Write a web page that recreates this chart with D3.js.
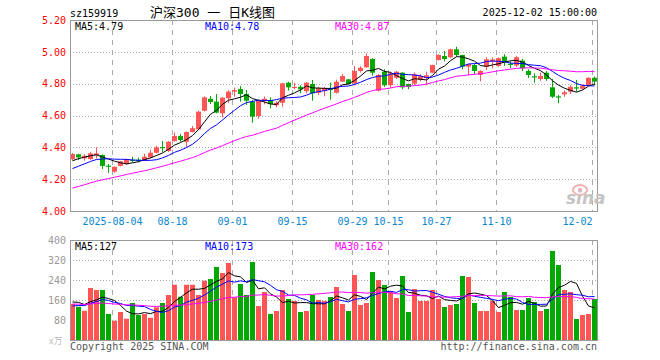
<!DOCTYPE html>
<html><head><meta charset="utf-8">
<script src="https://cdn.jsdelivr.net/npm/d3@7"></script>
<style>
html,body{margin:0;padding:0;background:#fff;}
svg{display:block;}
text{font-family:"DejaVu Sans Mono","Liberation Mono",monospace;font-size:10px;}
</style></head><body><svg id="c" width="660" height="360"></svg>
<script>
// ---------- DATA ----------
const dates = [
 "2025-07-24","2025-07-25","2025-07-28","2025-07-29","2025-07-30","2025-07-31",
 "2025-08-01","2025-08-04","2025-08-05","2025-08-06","2025-08-07","2025-08-08","2025-08-11","2025-08-12","2025-08-13","2025-08-14","2025-08-15","2025-08-18","2025-08-19","2025-08-20","2025-08-21","2025-08-22","2025-08-25","2025-08-26","2025-08-27","2025-08-28","2025-08-29",
 "2025-09-01","2025-09-02","2025-09-03","2025-09-04","2025-09-05","2025-09-08","2025-09-09","2025-09-10","2025-09-11","2025-09-12","2025-09-15","2025-09-16","2025-09-17","2025-09-18","2025-09-19","2025-09-22","2025-09-23","2025-09-24","2025-09-25","2025-09-26","2025-09-29","2025-09-30",
 "2025-10-09","2025-10-10","2025-10-13","2025-10-14","2025-10-15","2025-10-16","2025-10-17","2025-10-20","2025-10-21","2025-10-22","2025-10-23","2025-10-24","2025-10-27","2025-10-28","2025-10-29","2025-10-30","2025-10-31",
 "2025-11-03","2025-11-04","2025-11-05","2025-11-06","2025-11-07","2025-11-10","2025-11-11","2025-11-12","2025-11-13","2025-11-14","2025-11-17","2025-11-18","2025-11-19","2025-11-20","2025-11-21","2025-11-24","2025-11-25","2025-11-26","2025-11-27","2025-11-28",
 "2025-12-01","2025-12-02"];
const open = [4.325,4.356,4.331,4.326,4.350,4.352,4.285,4.247,4.283,4.295,4.322,4.322,4.316,4.337,4.366,4.402,4.377,4.440,4.471,4.435,4.496,4.513,4.630,4.705,4.687,4.614,4.708,4.750,4.766,4.735,
 4.687,4.597,4.690,4.697,4.664,4.680,4.806,4.775,4.780,4.753,4.798,4.743,4.756,4.768,4.743,4.813,4.827,4.802,4.880,4.903,4.955,4.756,4.875,4.790,4.837,4.869,4.798,4.800,4.823,4.835,
 4.869,4.949,4.974,4.966,5.016,4.980,4.907,4.917,4.855,4.907,4.938,4.911,4.970,4.925,4.914,4.945,4.880,4.846,4.829,4.869,4.777,4.720,4.733,4.750,4.777,4.768,4.790,4.837];
const high = [4.365,4.360,4.356,4.370,4.400,4.355,4.295,4.280,4.315,4.328,4.340,4.335,4.360,4.385,4.410,4.440,4.440,4.494,4.484,4.500,4.534,4.630,4.720,4.723,4.735,4.715,4.760,4.775,4.785,4.760,
 4.697,4.700,4.720,4.715,4.690,4.805,4.812,4.806,4.790,4.810,4.823,4.780,4.780,4.806,4.825,4.861,4.830,4.911,4.910,4.990,4.960,4.860,4.890,4.875,4.880,4.872,4.800,4.870,4.860,4.875,
 4.920,4.985,5.005,5.020,5.032,4.982,4.925,4.925,4.885,4.966,4.965,4.965,4.985,4.940,4.975,4.955,4.890,4.865,4.870,4.880,4.830,4.729,4.757,4.790,4.823,4.795,4.840,4.845];
const low = [4.318,4.320,4.316,4.322,4.330,4.264,4.240,4.240,4.280,4.290,4.305,4.305,4.313,4.330,4.362,4.370,4.370,4.435,4.435,4.400,4.494,4.509,4.625,4.672,4.614,4.589,4.680,4.718,4.687,4.666,
 4.555,4.580,4.670,4.645,4.652,4.655,4.756,4.765,4.740,4.740,4.693,4.729,4.720,4.700,4.738,4.810,4.795,4.790,4.870,4.900,4.850,4.750,4.780,4.775,4.830,4.765,4.765,4.790,4.815,4.790,
 4.865,4.945,4.940,4.960,4.969,4.890,4.855,4.860,4.815,4.886,4.895,4.905,4.911,4.898,4.905,4.880,4.836,4.806,4.818,4.818,4.710,4.677,4.718,4.735,4.750,4.763,4.785,4.790];
const close = [4.358,4.337,4.347,4.362,4.362,4.283,4.280,4.278,4.312,4.325,4.318,4.318,4.341,4.366,4.400,4.398,4.435,4.471,4.446,4.496,4.520,4.624,4.714,4.685,4.618,4.712,4.750,4.760,4.735,4.693,
 4.593,4.697,4.705,4.672,4.680,4.802,4.777,4.780,4.764,4.806,4.740,4.771,4.771,4.762,4.812,4.848,4.798,4.880,4.900,4.974,4.869,4.855,4.790,4.865,4.875,4.777,4.780,4.859,4.848,4.853,
 4.917,4.980,4.955,5.016,4.980,4.907,4.923,4.880,4.880,4.953,4.952,4.960,4.932,4.921,4.966,4.897,4.855,4.843,4.848,4.829,4.718,4.716,4.746,4.780,4.773,4.787,4.837,4.813];
const volume = [144,133,117,208,200,200,104,77,112,85,148,100,104,89,131,148,180,221,173,221,
 221,180,237,244,292,268,308,171,224,180,312,136,192,104,116,200,164,156,112,116,
 180,160,156,172,212,144,116,260,140,148,272,240,220,196,168,256,112,204,156,156,
 200,164,132,140,144,256,252,148,116,116,156,112,192,172,120,120,168,152,116,124,
 356,300,200,192,84,100,104,164];
// sessions before the visible window (needed only for the moving averages)
const priorClose = [4.02,4.03,4.01,4.03,4.04,4.05,4.03,4.05,4.06,4.08,4.09,4.10,4.11,4.10,4.11,4.12,4.13,4.14,4.17,4.18,
 4.19,4.20,4.21,4.24,4.25,4.27,4.30,4.32,4.33];
const priorVolume = [150,160,140,130,170,150,145,135,160,155,140,150,165,145,130,150,140,155,145,145,
 110,125,115,130,120,140,160,150,166];
const priceTicks = [4.00,4.20,4.40,4.60,4.80,5.00,5.20];
const volTicks = [80,160,240,320,400];
const dateTicks = ["2025-08-04","2025-08-18","2025-09-01","2025-09-15","2025-09-29","2025-10-15","2025-10-27","2025-11-10","2025-12-02"];
const dateTickLabels = ["2025-08-04","08-18","09-01","09-15","09-29","10-15","10-27","11-10","12-02"];
const maPeriods = [5,10,30];
const maNames = ["MA5","MA10","MA30"];
const priceMaLegend = ["4.79","4.78","4.87"];
const volMaLegend = ["127","173","162"];

// ---------- LAYOUT ----------
const L = 70, R = 597, PT = 20, PB = 211, VT = 240, VB = 340;
const UP = "#ff5555", DN = "#00a800";
const maColors = ["#000000", "#0000ff", "#ff00ff"];
const svg = d3.select("#c");

const x = d3.scaleBand().domain(dates).range([L, L + 6 * dates.length - 1]).paddingInner(1/6).paddingOuter(0);
const xp = d3.scalePoint().domain(dates).range([L, L + 6 * (dates.length - 1)]);
const yP = d3.scaleLinear().domain([4.0, 5.2]).range([PB, PT]);
const yV = d3.scaleLinear().domain([0, 400]).range([VB, VT]);

// grid
const grid = svg.append("g");
priceTicks.slice(1, -1).forEach(t => {
  const yy = Math.round(yP(t)) + 0.5;
  grid.append("line").attr("x1", L).attr("x2", R).attr("y1", yy).attr("y2", yy)
    .attr("stroke", "#aaa").attr("stroke-dasharray", "1,2").attr("shape-rendering", "crispEdges");
});
volTicks.slice(0, -1).forEach(t => {
  const yy = Math.round(yV(t)) + 0.5;
  grid.append("line").attr("x1", L).attr("x2", R).attr("y1", yy).attr("y2", yy)
    .attr("stroke", "#aaa").attr("stroke-dasharray", "1,2").attr("shape-rendering", "crispEdges");
});
dateTicks.forEach(d => {
  const xx = Math.round(xp(d)) + 0.5;
  [[PT, PB], [VT, VB]].forEach(([a, b]) => {
    grid.append("line").attr("x1", xx).attr("x2", xx).attr("y1", a).attr("y2", b)
      .attr("stroke", "#aaa").attr("stroke-dasharray", "5,5").attr("shape-rendering", "crispEdges");
  });
});

// candles
const cg = svg.append("g");
dates.forEach((d, i) => {
  const col = close[i] >= open[i] ? UP : DN;
  const xx = x(d);
  cg.append("line").attr("x1", xx + 2.5).attr("x2", xx + 2.5)
    .attr("y1", yP(high[i])).attr("y2", yP(low[i])).attr("stroke", col).attr("stroke-width", 1);
  const top = yP(Math.max(open[i], close[i])), bot = yP(Math.min(open[i], close[i]));
  cg.append("rect").attr("x", xx).attr("y", top).attr("width", x.bandwidth())
    .attr("height", Math.max(1.2, bot - top)).attr("fill", col);
});

// volume bars
const vg = svg.append("g");
dates.forEach((d, i) => {
  vg.append("rect").attr("x", x(d)).attr("y", yV(volume[i])).attr("width", x.bandwidth())
    .attr("height", VB - yV(volume[i])).attr("fill", close[i] >= open[i] ? UP : DN);
});

// moving averages
function movingAvg(prior, vals, n) {
  const all = prior.concat(vals);
  return vals.map((v, i) => {
    const j = i + prior.length;
    return d3.mean(all.slice(j - n + 1, j + 1));
  });
}
const lineP = d3.line().x((d, i) => x(dates[i]) + 2.5).y(d => yP(d));
const lineV = d3.line().x((d, i) => x(dates[i]) + 2.5).y(d => yV(d));
maPeriods.forEach((n, k) => {
  svg.append("path").attr("d", lineP(movingAvg(priorClose, close, n)))
    .attr("fill", "none").attr("stroke", maColors[k]).attr("stroke-width", 1);
  svg.append("path").attr("d", lineV(movingAvg(priorVolume, volume, n)))
    .attr("fill", "none").attr("stroke", maColors[k]).attr("stroke-width", 1);
});

// frames
[[PT, PB], [VT, VB]].forEach(([a, b]) => {
  svg.append("rect").attr("x", L + 0.5).attr("y", a + 0.5).attr("width", R - L).attr("height", b - a)
    .attr("fill", "none").attr("stroke", "#999").attr("shape-rendering", "crispEdges");
});

// axes
function styleAxis(g, color) {
  g.select(".domain").remove();
  g.selectAll("line").remove();
  g.selectAll("text").attr("fill", color)
    .attr("font-family", '"DejaVu Sans Mono","Liberation Mono",monospace').attr("font-size", 10);
}
svg.append("g").attr("transform", `translate(${L},0)`)
  .call(d3.axisLeft(yP).tickValues(priceTicks).tickSize(0).tickPadding(4).tickFormat(d3.format(".2f")))
  .call(g => styleAxis(g, "#ff0000"));
svg.append("g").attr("transform", `translate(${L},0)`)
  .call(d3.axisLeft(yV).tickValues(volTicks).tickSize(0).tickPadding(4))
  .call(g => styleAxis(g, "#999"));
const xa = svg.append("g").attr("transform", `translate(0,${PB})`)
  .call(d3.axisBottom(xp).tickValues(dateTicks).tickSize(0).tickPadding(7)
    .tickFormat(d => dateTickLabels[dateTicks.indexOf(d)]))
  .call(g => styleAxis(g, "#0a86cf"));
xa.selectAll("text").filter(d => d === dateTicks[dateTicks.length - 1]).attr("text-anchor", "end");

// texts
svg.append("text").attr("x", 70).attr("y", 16.5).text("sz159919");
svg.append("text").attr("x", 150).attr("y", 17).style("font-size", "13px")
  .style("font-family", '"DejaVu Sans Mono","Noto Sans CJK SC",monospace').text("沪深300 一 日K线图");
svg.append("text").attr("x", 597).attr("y", 16).attr("text-anchor", "end").text("2025-12-02 15:00:00");
maNames.forEach((nm, k) => {
  svg.append("text").attr("x", 75 + 130 * k).attr("y", 29.5).attr("fill", maColors[k]).text(nm + ":" + priceMaLegend[k]);
  svg.append("text").attr("x", 75 + 130 * k).attr("y", 249.5).attr("fill", maColors[k]).text(nm + ":" + volMaLegend[k]);
});
svg.append("text").attr("x", 70).attr("y", 350).attr("fill", "#555").text("Copyright 2025 SINA.COM");
svg.append("text").attr("x", 597).attr("y", 350).attr("text-anchor", "end").attr("fill", "#555").text("http://finance.sina.com.cn");
svg.append("text").attr("x", 49).attr("y", 344).attr("fill", "#bbb").style("font-size", "9px")
  .style("font-family", '"Noto Sans CJK SC",sans-serif').text("x万");

// sina watermark
const wm = svg.append("g");
wm.append("ellipse").attr("cx", 580).attr("cy", 190).attr("rx", 7).attr("ry", 5).attr("fill", "none").attr("stroke", "#f2b0b0").attr("stroke-width", 2);
wm.append("circle").attr("cx", 580).attr("cy", 190).attr("r", 2.2).attr("fill", "#f2b0b0");
wm.append("text").attr("x", 566).attr("y", 204).attr("fill", "#c4c4c4")
  .style("font-family", '"DejaVu Sans",sans-serif').style("font-size", "17px")
  .style("font-weight", "bold").style("font-style", "italic").text("sina");
</script></body></html>
